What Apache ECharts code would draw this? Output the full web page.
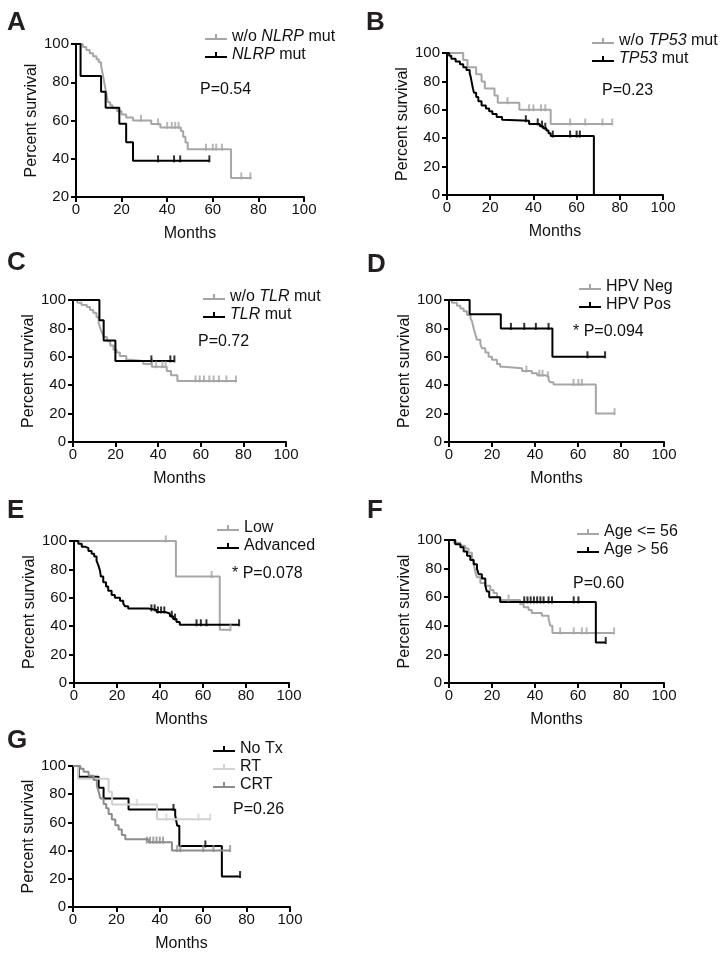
<!DOCTYPE html>
<html><head><meta charset="utf-8">
<script src="https://cdn.jsdelivr.net/npm/echarts@6/dist/echarts.min.js"></script>
<style>html,body{margin:0;padding:0;background:#fff}#c{width:722px;height:955px}</style>
</head><body><div id="c"></div>
<script>
// ---------- DATA (months, percent survival) ----------
const xTicks = [0, 20, 40, 60, 80, 100];
const yTicksA = [20, 40, 60, 80, 100];
const yTicks = [0, 20, 40, 60, 80, 100];

// Panel A
const A_wo = [[0,100],[3,98.4],[4.5,96.8],[6,95.2],[7.5,93.6],[9,92],[10,90.4],[11,88.8],[11.5,85.6],[12,82.4],[12.5,79.2],[13,76],[13.5,72.8],[14,69.6],[15,68],[16,66.4],[18,64.8],[20,63.2],[22,61.6],[25,60],[33,58.2],[37,56.4],[46,54.5],[47,51.5],[48,48.5],[49,45],[68,30],[77,30]];
const A_wo_c = [[28.5,60],[36,58.2],[40,56.4],[42,56.4],[43.5,56.4],[45,56.4],[57,45],[60,45],[61.5,45],[64,45],[72.5,30],[76.5,30]];
const A_mut = [[0,100],[2,83.3],[11,75],[13,66.7],[19,58.3],[22,48.6],[25,38.9],[58.5,38.9]];
const A_mut_c = [[36,38.9],[43,38.9],[45.7,38.9],[58.5,38.9]];
// Panel B
const B_wo = [[0,100],[7.5,95],[9.5,90],[13.5,85],[16,80],[17.5,75],[22,70],[23.5,65],[33.5,60],[48,50],[76.5,50]];
const B_wo_c = [[28,65],[38,60],[40,60],[43.5,60],[45.5,60],[57,50],[64,50],[72,50],[76.5,50]];
const B_mut = [[0,100],[1,98],[2,96],[4,94],[6,92],[7.5,90],[9,88],[10.5,86],[11,83],[11.5,79],[12,75],[12.5,72],[13.5,69],[14.5,66],[16,63],[18,61],[19.5,59],[21,57],[23,55],[25.5,53],[26,52.3],[38,50],[43,48.5],[44.5,47],[46,45.5],[47,43.5],[48,41.5],[68,0]];
const B_mut_c = [[36.5,52.3],[42,50],[44,48.5],[45.5,47],[49,41.5],[57,41.5],[60,41.5],[61.5,41.5]];
// Panel C
const C_wo = [[0,100],[2,98],[4,96.5],[6.5,95],[8,93],[9.5,91],[11,88],[12,84],[12.8,80],[13.6,77],[14.4,74],[16,71],[17.5,68],[19,65],[20.5,63],[22,60.5],[25,58],[27,57],[33,55],[37,53],[44,50],[46,47],[49,43],[77,43]];
const C_wo_c = [[37,55],[39,53],[42,53],[43.5,53],[57.5,43],[59.5,43],[61.5,43],[64,43],[66,43],[68.5,43],[72,43],[76.5,43]];
const C_mut = [[0,100],[12.4,85.7],[14.4,71.4],[19.9,57.1],[47.6,57.1]];
const C_mut_c = [[36.8,57.1],[45.7,57.1],[47.6,57.1]];
// Panel D
const D_neg = [[0,100],[1.4,98],[3.7,96],[5.3,94],[6.8,92],[8.4,89.5],[10,87],[10.7,85],[11.5,80],[12.2,76],[13,72],[14.6,69],[15.3,66],[16.9,63],[18.4,60],[20,58],[22.3,55],[23.8,53],[25.4,52],[34,50],[38.5,48.5],[41,47],[45,46],[46.3,44],[47,42],[48.6,40.5],[68.3,20],[77,20]];
const D_neg_c = [[36,50],[42,47],[43.5,47],[46,46],[57.9,40.5],[60.2,40.5],[61.8,40.5],[77,20]];
const D_pos = [[0,100],[9.6,90],[24.1,80],[48.1,60],[72.6,60]];
const D_pos_c = [[28.8,80],[35,80],[40.4,80],[46.3,80],[64.4,60],[72.6,60]];
// Panel E
const E_low = [[0,100],[47.4,75],[67.8,37.5],[72.8,37.5]];
const E_low_c = [[42.7,100],[64,75],[72.8,37.5]];
const E_adv = [[0,100],[2,98],[3.6,96],[5.1,95],[6.7,93],[8.2,91],[9.4,89],[10.5,86],[11.3,83],[12.1,79],[12.5,75],[13.6,71],[14.9,68],[15.9,65],[17.5,62],[19,60],[21.4,58],[22.9,56],[23.7,54],[25.2,52.5],[34.5,51.5],[38.4,50],[42.3,49],[44.6,47],[46.1,45],[47.7,43],[49.2,41],[76.8,41]];
const E_adv_c = [[36,51.5],[37.5,51.5],[39,50],[40.5,50],[42,50],[45.5,47],[47,45],[57,41],[59,41],[61.6,41],[76.8,41]];
// Panel F
const F_young = [[0,100],[2.2,98],[5.3,96],[7.6,94],[9.1,91],[10.7,88],[11.5,83],[12.2,78],[13,74],[14.6,70],[16.9,68],[19.2,65],[20.7,63],[22.3,60],[23.8,58],[33.1,55],[34.7,53],[37,51],[38.5,49],[43.2,47],[46.3,45],[47.1,40],[48.1,35],[76.8,35]];
const F_young_c = [[27.7,58],[51.7,35],[58,35],[61.8,35],[64,35],[76.8,35]];
const F_old = [[0,100],[2.9,97],[5.3,95],[6.8,92],[8.4,89],[9.9,86],[11.5,83],[13,80],[13.8,76],[15.3,73],[16.9,68],[17.6,64],[18.7,60],[23.8,56.7],[68.3,28.3],[72.9,28.3]];
const F_old_c = [[35,56.7],[36.5,56.7],[38,56.7],[39.5,56.7],[41,56.7],[42.5,56.7],[44,56.7],[46.3,56.7],[47.9,56.7],[58,56.7],[60.2,56.7],[72.9,28.3]];
// Panel G
const G_notx = [[0,100],[2.6,92.3],[11.8,84.6],[14.1,76.9],[25.6,69.2],[47.1,65],[48,57.7],[49,43.3],[68.6,21.6],[77,21.6]];
const G_notx_c = [[46.3,69.2],[61,43.3],[77,21.6]];
const G_rt = [[0,100],[2.3,90.9],[16.4,81.8],[18,72.7],[38.7,62.3],[63.2,62.3]];
const G_rt_c = [[29.4,72.7],[43,62.3],[57.8,62.3],[63.2,62.3]];
const G_crt = [[0,100],[3.4,98],[4.9,96],[7.2,93],[9.5,90],[11,86],[11.8,82],[12.6,77],[14.1,73],[15.3,70],[16.4,66],[17.9,62],[19.5,58],[21,55],[22.5,51],[24.1,48],[34.8,46],[45.6,40],[72.4,40]];
const G_crt_c = [[34,46],[35.5,46],[37,46],[38.5,46],[40,46],[41.5,46],[48,40],[49.5,40],[60,40],[64.7,40],[72.4,40]];

const pValues = ['P=0.54','P=0.23','P=0.72','* P=0.094','* P=0.078','P=0.60','P=0.26'];
const panelLetters = ['A','B','C','D','E','F','G'];

// ---------- LAYOUT ----------
const FONT = '"Liberation Sans", Arial, sans-serif';
const GRAY = '#a6a6a6', BLACK = '#000000', LIGHT = '#d2d2d2', MID = '#8c8c8c';
const panels = [
  {grid:{left:76,top:44,width:228,height:153}, ymin:20, letter:[7,21], p:[200,90], leg:[205,29],
   series:[{name:'w/o NLRP mut', d:A_wo, c:A_wo_c, col:GRAY},{name:'NLRP mut', d:A_mut, c:A_mut_c, col:BLACK}]},
  {grid:{left:447,top:53,width:216,height:142}, ymin:0, letter:[366,21], p:[602,91], leg:[592,33],
   series:[{name:'w/o TP53 mut', d:B_wo, c:B_wo_c, col:GRAY},{name:'TP53 mut', d:B_mut, c:B_mut_c, col:BLACK}]},
  {grid:{left:73,top:300,width:213,height:142}, ymin:0, letter:[7,261], p:[198,342], leg:[203,289],
   series:[{name:'w/o TLR mut', d:C_wo, c:C_wo_c, col:GRAY},{name:'TLR mut', d:C_mut, c:C_mut_c, col:BLACK}]},
  {grid:{left:449,top:300,width:215,height:142}, ymin:0, letter:[367,263], p:[573,332], leg:[579,279],
   series:[{name:'HPV Neg', d:D_neg, c:D_neg_c, col:GRAY},{name:'HPV Pos', d:D_pos, c:D_pos_c, col:BLACK}]},
  {grid:{left:74,top:541,width:215,height:142}, ymin:0, letter:[7,509], p:[232,574], leg:[217,520],
   series:[{name:'Low', d:E_low, c:E_low_c, col:GRAY},{name:'Advanced', d:E_adv, c:E_adv_c, col:BLACK}]},
  {grid:{left:449,top:540,width:215,height:143}, ymin:0, letter:[367,509], p:[573,584], leg:[577,524],
   series:[{name:'Age <= 56', d:F_young, c:F_young_c, col:GRAY},{name:'Age > 56', d:F_old, c:F_old_c, col:BLACK}]},
  {grid:{left:73,top:766,width:217,height:141}, ymin:0, letter:[7,739], p:[233,810], leg:[213,741],
   series:[{name:'No Tx', d:G_notx, c:G_notx_c, col:BLACK},{name:'RT', d:G_rt, c:G_rt_c, col:LIGHT},{name:'CRT', d:G_crt, c:G_crt_c, col:MID}]}
];

const italicNames = {'w/o NLRP mut':'{n|w/o }{i|NLRP}{n| mut}','NLRP mut':'{i|NLRP}{n| mut}',
  'w/o TP53 mut':'{n|w/o }{i|TP53}{n| mut}','TP53 mut':'{i|TP53}{n| mut}',
  'w/o TLR mut':'{n|w/o }{i|TLR}{n| mut}','TLR mut':'{i|TLR}{n| mut}'};

const grids=[], xAxes=[], yAxes=[], series=[], legends=[], graphics=[];
const ICON = 'path://M0,5H22V7H0Z M10,1H12V7H10Z';
const TXT = '#111';
panels.forEach((p, i) => {
  grids.push(p.grid);
  xAxes.push({type:'value', gridIndex:i, min:xTicks[0], max:xTicks[xTicks.length-1], interval:20,
    name:'Months', nameLocation:'middle', nameGap:29,
    nameTextStyle:{fontFamily:FONT, fontSize:16, color:TXT},
    axisLine:{show:true, onZero:false, lineStyle:{color:'#000', width:2}},
    axisTick:{show:true, inside:false, length:5, lineStyle:{color:'#000', width:2}},
    axisLabel:{fontFamily:FONT, fontSize:15, color:TXT, margin:5},
    splitLine:{show:false}});
  yAxes.push({type:'value', gridIndex:i, min:p.ymin, max:100, interval:20,
    name:'Percent survival', nameLocation:'middle', nameGap:33,
    nameTextStyle:{fontFamily:FONT, fontSize:16, color:TXT},
    axisLine:{show:true, onZero:false, lineStyle:{color:'#000', width:2}},
    axisTick:{show:true, inside:false, length:5, lineStyle:{color:'#000', width:2}},
    axisLabel:{fontFamily:FONT, fontSize:15, color:TXT, margin:7},
    splitLine:{show:false}});
  p.series.forEach(s => {
    series.push({type:'line', name:s.name, xAxisIndex:i, yAxisIndex:i, data:s.d, step:'end',
      showSymbol:false, symbol:'none', color:s.col, lineStyle:{color:s.col, width:2}, animation:false, z:2});
    series.push({type:'scatter', name:s.name+' censored', xAxisIndex:i, yAxisIndex:i, data:s.c,
      symbol:'rect', symbolSize:[2,7], symbolOffset:[0,-2], itemStyle:{color:s.col}, animation:false, z:3});
  });
  legends.push({orient:'vertical', left:p.leg[0], top:p.leg[1], padding:0, itemWidth:22, itemHeight:8, itemGap:2,
    icon:ICON, data:p.series.map(s=>s.name), selectedMode:false,
    formatter: n => italicNames[n] || ('{n|'+n+'}'),
    textStyle:{fontFamily:FONT, fontSize:16, color:TXT, lineHeight:16,
      rich:{n:{fontFamily:FONT, fontSize:16, color:TXT, lineHeight:16}, i:{fontFamily:FONT, fontSize:16, fontStyle:'italic', color:TXT, lineHeight:16}}}});
  graphics.push({type:'text', left:p.letter[0], top:p.letter[1]-11,
    style:{text:panelLetters[i], font:'bold 26px '+FONT, fill:'#231f20'}});
  graphics.push({type:'text', left:p.p[0], top:p.p[1]-8,
    style:{text:pValues[i], font:'16px '+FONT, fill:TXT}});
});

const chart = echarts.init(document.getElementById('c'), null, {renderer:'canvas'});
chart.setOption({backgroundColor:'#fff', animation:false, grid:grids, xAxis:xAxes, yAxis:yAxes,
  series:series, legend:legends, graphic:graphics});
</script></body></html>
